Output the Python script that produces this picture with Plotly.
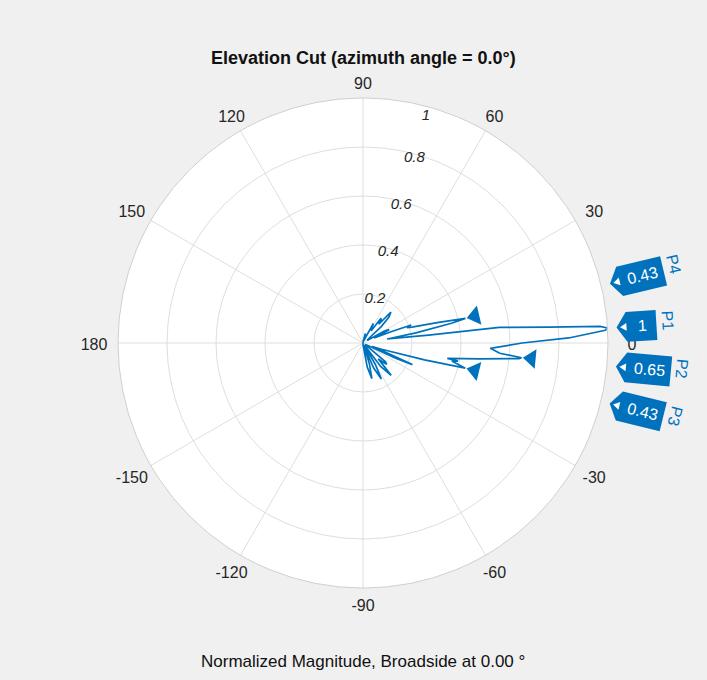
import math
import plotly.graph_objects as go

# ---------------------------------------------------------------- data
# Elevation cut of the normalized array pattern (angle in degrees, linear magnitude)
theta_deg = [-90, -86, -80, -76, -73, -70, -67, -63, -60, -57, -53, -49, -46,
             -44, -42, -40, -37, -27, -25, -23.6, -22.5, -21, -18.5, -15.3,
             -13.8, -11.5, -10.8, -10.3, -7.8, -5.7, -5.3, -4.3, -2.4, 0.0, 1.4,
             3.0, 3.5, 4.0, 4.9, 6.5, 6.8, 9.5, 10.8, 12.6, 13.5, 15.3, 18.0,
             19.3, 20.5, 22, 24, 27, 29, 32, 38, 42, 45, 48, 50, 52, 54, 56,
             59, 62, 65, 70, 76, 82, 90]
magnitude = [0.00, 0.01, 0.10, 0.15, 0.09, 0.01, 0.11, 0.165, 0.10, 0.01, 0.12, 0.175, 0.09,
             0.11, 0.13, 0.12, 0.01, 0.02, 0.15, 0.22, 0.10, 0.04, 0.08, 0.26,
             0.43, 0.37, 0.395, 0.35, 0.48, 0.64, 0.65, 0.56, 0.52, 0.65, 0.84,
             0.99, 1.00, 0.97, 0.76, 0.56, 0.27, 0.10, 0.22, 0.37, 0.43, 0.32, 0.21,
             0.19, 0.21, 0.12, 0.05, 0.12, 0.10, 0.02, 0.03, 0.10, 0.15, 0.17, 0.10, 0.12, 0.125, 0.06,
             0.07, 0.09, 0.03, 0.01, 0.04, 0.01, 0.00]

# Detected peaks
peak_names = ['P1', 'P2', 'P3', 'P4']
peak_theta = [3.5, -5.3, -13.8, 13.5]
peak_value = [1.0, 0.65, 0.43, 0.43]

# Axis ticks
angle_ticks = [0, 30, 60, 90, 120, 150, 180, 210, 240, 270, 300, 330]
angle_labels = ['0', '30', '60', '90', '120', '150', '180',
                '-150', '-120', '-90', '-60', '-30']
radial_ticks = [0.2, 0.4, 0.6, 0.8, 1.0]
radial_labels = ['0.2', '0.4', '0.6', '0.8', '1']

# ---------------------------------------------------------------- layout constants
W, H = 707, 680
CX, CY = 363, 343          # centre of the polar plot, pixels from top-left
R = 245                    # radius of the polar plot, pixels
R_LAB = 275                # radius of the transparent ring carrying the angle labels
LAB_A, LAB_B = 269, 261    # label ring half-axes (horizontal, vertical), pixels
LAB_DY = 3                 # downward nudge of the label ring, pixels
BLUE = '#0072BD'
FONT = 'Liberation Sans, Arial, Helvetica, sans-serif'
TXT = '#262626'


def paper(x, y):
    """Pixel position -> paper coordinates."""
    return x / W, 1 - y / H


def domain(radius, dy=0):
    x0, y1 = paper(CX - radius, CY + dy - radius)
    x1, y0 = paper(CX + radius, CY + dy + radius)
    return dict(x=[x0, x1], y=[y0, y1])


def text_width(s, size):
    w = {'.': 0.278, 'P': 0.667}
    return sum(w.get(c, 0.556) for c in s) * size


fig = go.Figure()

# pattern curve
fig.add_trace(go.Scatterpolar(
    r=magnitude, theta=theta_deg, mode='lines',
    line=dict(color=BLUE, width=1.7), hoverinfo='skip', showlegend=False))

# peak markers: triangles pointing back along the ray, tip on the peak
TRI = 17
tip_off = 1.155 * (TRI / 2) / R
fig.add_trace(go.Scatterpolar(
    r=[v + tip_off for v in peak_value], theta=peak_theta, mode='markers',
    marker=dict(symbol='triangle-left', size=TRI, color=BLUE,
                angle=[-t for t in peak_theta], line=dict(width=0)),
    cliponaxis=True, hoverinfo='skip', showlegend=False))

# radial tick labels placed along the 74.5 deg ray, just inside each ring
lab_r = []
for v in radial_ticks:
    inset = 10 if v == max(radial_ticks) else 4
    lab_r.append(v - inset / R)
fig.add_trace(go.Scatterpolar(
    r=lab_r, theta=[74.5] * len(radial_ticks), mode='text', text=radial_labels,
    textfont=dict(family=FONT, size=15, color=TXT, style='italic'),
    hoverinfo='skip', showlegend=False))

# angular tick labels on a transparent outer ring (second polar subplot)
ring_r = []
for a in angle_ticks:
    c, s = math.cos(math.radians(a)), math.sin(math.radians(a))
    ring_r.append(1 / math.sqrt((c / LAB_A) ** 2 + (s / LAB_B) ** 2) / R_LAB)
fig.add_trace(go.Scatterpolar(
    r=ring_r, theta=angle_ticks, mode='text',
    text=angle_labels, cliponaxis=False, subplot='polar2',
    textfont=dict(family=FONT, size=16, color=TXT),
    hoverinfo='skip', showlegend=False))

# ---------------------------------------------------------------- peak tags
shapes, annotations = [], []
TAG_GAP = 9
for name, th, val in zip(peak_names, peak_theta, peak_value):
    t = math.radians(th)
    ux, uy = math.cos(t), -math.sin(t)        # outward direction (screen)
    vx, vy = -math.sin(t), -math.cos(t)       # perpendicular, "up" on screen
    tx, ty = CX + (R + TAG_GAP) * ux, CY + (R + TAG_GAP) * uy

    def loc(a, b):
        return paper(tx + a * ux + b * vx, ty + a * uy + b * vy)

    label = f'{val:g}'
    tw = text_width(label, 16)
    L = max(40, 18 + tw + 6)
    body = [loc(0, 0), loc(10, 15), loc(L, 15), loc(L, -15), loc(10, -15)]
    shapes.append(dict(type='path', xref='paper', yref='paper', layer='above',
                       path='M' + 'L'.join(f'{x:.5f},{y:.5f}' for x, y in body) + 'Z',
                       fillcolor=BLUE, line=dict(width=0)))
    tri = [loc(3.5, 0), loc(10, 4), loc(10, -4)]
    shapes.append(dict(type='path', xref='paper', yref='paper', layer='above',
                       path='M' + 'L'.join(f'{x:.5f},{y:.5f}' for x, y in tri) + 'Z',
                       fillcolor='white', line=dict(width=0)))
    px, py = loc((18 + L - 6) / 2, 0)
    annotations.append(dict(x=px, y=py, xref='paper', yref='paper', text=label,
                            showarrow=False, textangle=-th, xanchor='center',
                            yanchor='middle',
                            font=dict(family=FONT, size=16, color='white')))
    qx, qy = loc(L + 11, 3.5)
    annotations.append(dict(x=qx, y=qy, xref='paper', yref='paper', text=name,
                            showarrow=False, textangle=90 - th, xanchor='center',
                            yanchor='middle',
                            font=dict(family=FONT, size=16, color=BLUE)))

# title and footer
tx_, ty_ = paper(CX, 58)
annotations.append(dict(x=tx_, y=ty_, xref='paper', yref='paper',
                        text='<b>Elevation Cut (azimuth angle = 0.0°)</b>',
                        showarrow=False, xanchor='center', yanchor='middle',
                        font=dict(family=FONT, size=18, color='#111111')))
fx, fy = paper(CX, 661)
annotations.append(dict(x=fx, y=fy, xref='paper', yref='paper',
                        text='Normalized Magnitude, Broadside at 0.00 °',
                        showarrow=False, xanchor='center', yanchor='middle',
                        font=dict(family=FONT, size=17, color='#111111')))

hidden_axis = dict(visible=False, showgrid=False, showline=False,
                   showticklabels=False, ticks='')

fig.update_layout(
    width=W, height=H,
    margin=dict(l=0, r=0, t=0, b=0),
    paper_bgcolor='#f0f0f0',
    font=dict(family=FONT, color=TXT),
    showlegend=False,
    shapes=shapes,
    annotations=annotations,
    polar=dict(
        domain=domain(R),
        bgcolor='white',
        angularaxis=dict(
            rotation=0, direction='counterclockwise',
            tickmode='array', tickvals=angle_ticks,
            showticklabels=False,
            ticks='', showline=True, linecolor='#cfcfcf', linewidth=1,
            showgrid=True, gridcolor='#dedede', gridwidth=1),
        radialaxis=dict(
            range=[0, 1], tickmode='array', tickvals=radial_ticks,
            showticklabels=False, ticks='', showline=False,
            showgrid=True, gridcolor='#dedede', gridwidth=1, angle=74.5),
    ),
    polar2=dict(
        domain=domain(R_LAB, LAB_DY),
        bgcolor='rgba(0,0,0,0)',
        angularaxis=dict(rotation=0, direction='counterclockwise', **hidden_axis),
        radialaxis=dict(range=[0, 1], **hidden_axis),
    ),
)

fig.write_html('out.html')
